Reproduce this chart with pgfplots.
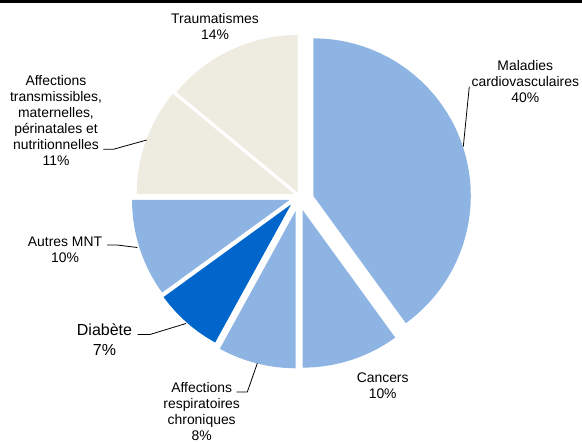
\documentclass[border=0pt]{standalone}
\usepackage{pgfplots}
\usepackage{pgfplotstable}
\pgfplotsset{compat=1.18}
\usepackage{fontspec}
\setmainfont{Liberation Sans}
\definecolor{lblue}{RGB}{141,180,226}
\definecolor{dblue}{RGB}{0,102,204}
\definecolor{beige}{RGB}{238,236,225}
\tikzset{lab/.style={font=\fontsize{13.9}{16}\selectfont, align=center, inner sep=0pt, overlay}}
% cumulative percentage p along the rim (r=1), apex row r=0
\pgfplotstableread[row sep=\\]{p r\\ 0 0\\ 0 1\\ 1 1\\ 2 1\\ 3 1\\ 4 1\\ 5 1\\ 6 1\\ 7 1\\ 8 1\\ 9 1\\ 10 1\\ 11 1\\ 12 1\\ 13 1\\ 14 1\\ 15 1\\ 16 1\\ 17 1\\ 18 1\\ 19 1\\ 20 1\\ 21 1\\ 22 1\\ 23 1\\ 24 1\\ 25 1\\ 26 1\\ 27 1\\ 28 1\\ 29 1\\ 30 1\\ 31 1\\ 32 1\\ 33 1\\ 34 1\\ 35 1\\ 36 1\\ 37 1\\ 38 1\\ 39 1\\ 40 1\\}\tCV
\pgfplotstableread[row sep=\\]{p r\\ 40 0\\ 40 1\\ 41 1\\ 42 1\\ 43 1\\ 44 1\\ 45 1\\ 46 1\\ 47 1\\ 48 1\\ 49 1\\ 50 1\\}\tCan
\pgfplotstableread[row sep=\\]{p r\\ 50 0\\ 50 1\\ 51 1\\ 52 1\\ 53 1\\ 54 1\\ 55 1\\ 56 1\\ 57 1\\ 58 1\\}\tResp
\pgfplotstableread[row sep=\\]{p r\\ 58 0\\ 58 1\\ 59 1\\ 60 1\\ 61 1\\ 62 1\\ 63 1\\ 64 1\\ 65 1\\}\tDia
\pgfplotstableread[row sep=\\]{p r\\ 65 0\\ 65 1\\ 66 1\\ 67 1\\ 68 1\\ 69 1\\ 70 1\\ 71 1\\ 72 1\\ 73 1\\ 74 1\\ 75 1\\}\tMNT
\pgfplotstableread[row sep=\\]{p r\\ 75 0\\ 75 1\\ 76 1\\ 77 1\\ 78 1\\ 79 1\\ 80 1\\ 81 1\\ 82 1\\ 83 1\\ 84 1\\ 85 1\\ 86 1\\}\tTra
\pgfplotstableread[row sep=\\]{p r\\ 86 0\\ 86 1\\ 87 1\\ 88 1\\ 89 1\\ 90 1\\ 91 1\\ 92 1\\ 93 1\\ 94 1\\ 95 1\\ 96 1\\ 97 1\\ 98 1\\ 99 1\\ 100 1\\}\tTrau
\newcommand{\slice}[4]{\addplot[fill=#1, draw=none, mark=none] table[x expr={#2+\thisrow{r}*157.5*sin(3.6*\thisrow{p})}, y expr={#3-\thisrow{r}*157.5*cos(3.6*\thisrow{p})}] {#4};}
\begin{document}
\begin{tikzpicture}
\begin{axis}[
  width=582pt, height=443pt, scale only axis,
  xmin=0, xmax=582, ymin=0, ymax=443, y dir=reverse,
  axis line style={draw=none}, ticks=none, clip=false,
]
\addplot[fill=black, draw=none, mark=none] coordinates {(0,0) (582,0) (582,2.8) (0,2.8)};
\slice{lblue}{313.3}{195.8}{\tCV}
\slice{lblue}{302.7}{210.2}{\tCan}
\slice{lblue}{295.7}{210.8}{\tResp}
\slice{dblue}{291.0}{204.5}{\tDia}
\slice{lblue}{289.5}{200.0}{\tMNT}
\slice{beige}{294.2}{194.0}{\tTra}
\slice{beige}{297.7}{192.5}{\tTrau}
% leader lines
\addplot[black, line width=0.8pt, mark=none] coordinates {(469.3,86.7) (463.3,146.7)};
\addplot[black, line width=0.8pt, mark=none] coordinates {(103.3,149.3) (113.3,149.3) (146.7,140)};
\addplot[black, line width=0.8pt, mark=none] coordinates {(107,245) (117,245) (137.3,247.5)};
\addplot[black, line width=0.8pt, mark=none] coordinates {(137.7,334.5) (150,334.5) (186,323.5)};
\addplot[black, line width=0.8pt, mark=none] coordinates {(236.7,392) (247.3,392) (257.3,363.3)};
% labels
\node[lab] at (axis cs:215,27) {Traumatismes\\14\%};
\node[lab] at (axis cs:525.3,81.7) {Maladies\\cardiovasculaires\\40\%};
\node[lab] at (axis cs:56,120.7) {Affections\\transmissibles,\\maternelles,\\périnatales et\\nutritionnelles\\11\%};
\node[lab] at (axis cs:65,250) {Autres MNT\\10\%};
\node[lab, font=\fontsize{16}{19.3}\selectfont] at (axis cs:104.5,339.7) {Diabète\\7\%};
\node[lab] at (axis cs:201.7,411.3) {Affections\\respiratoires\\chroniques\\8\%};
\node[lab] at (axis cs:382.7,386.2) {Cancers\\10\%};
\end{axis}
\end{tikzpicture}
\end{document}
